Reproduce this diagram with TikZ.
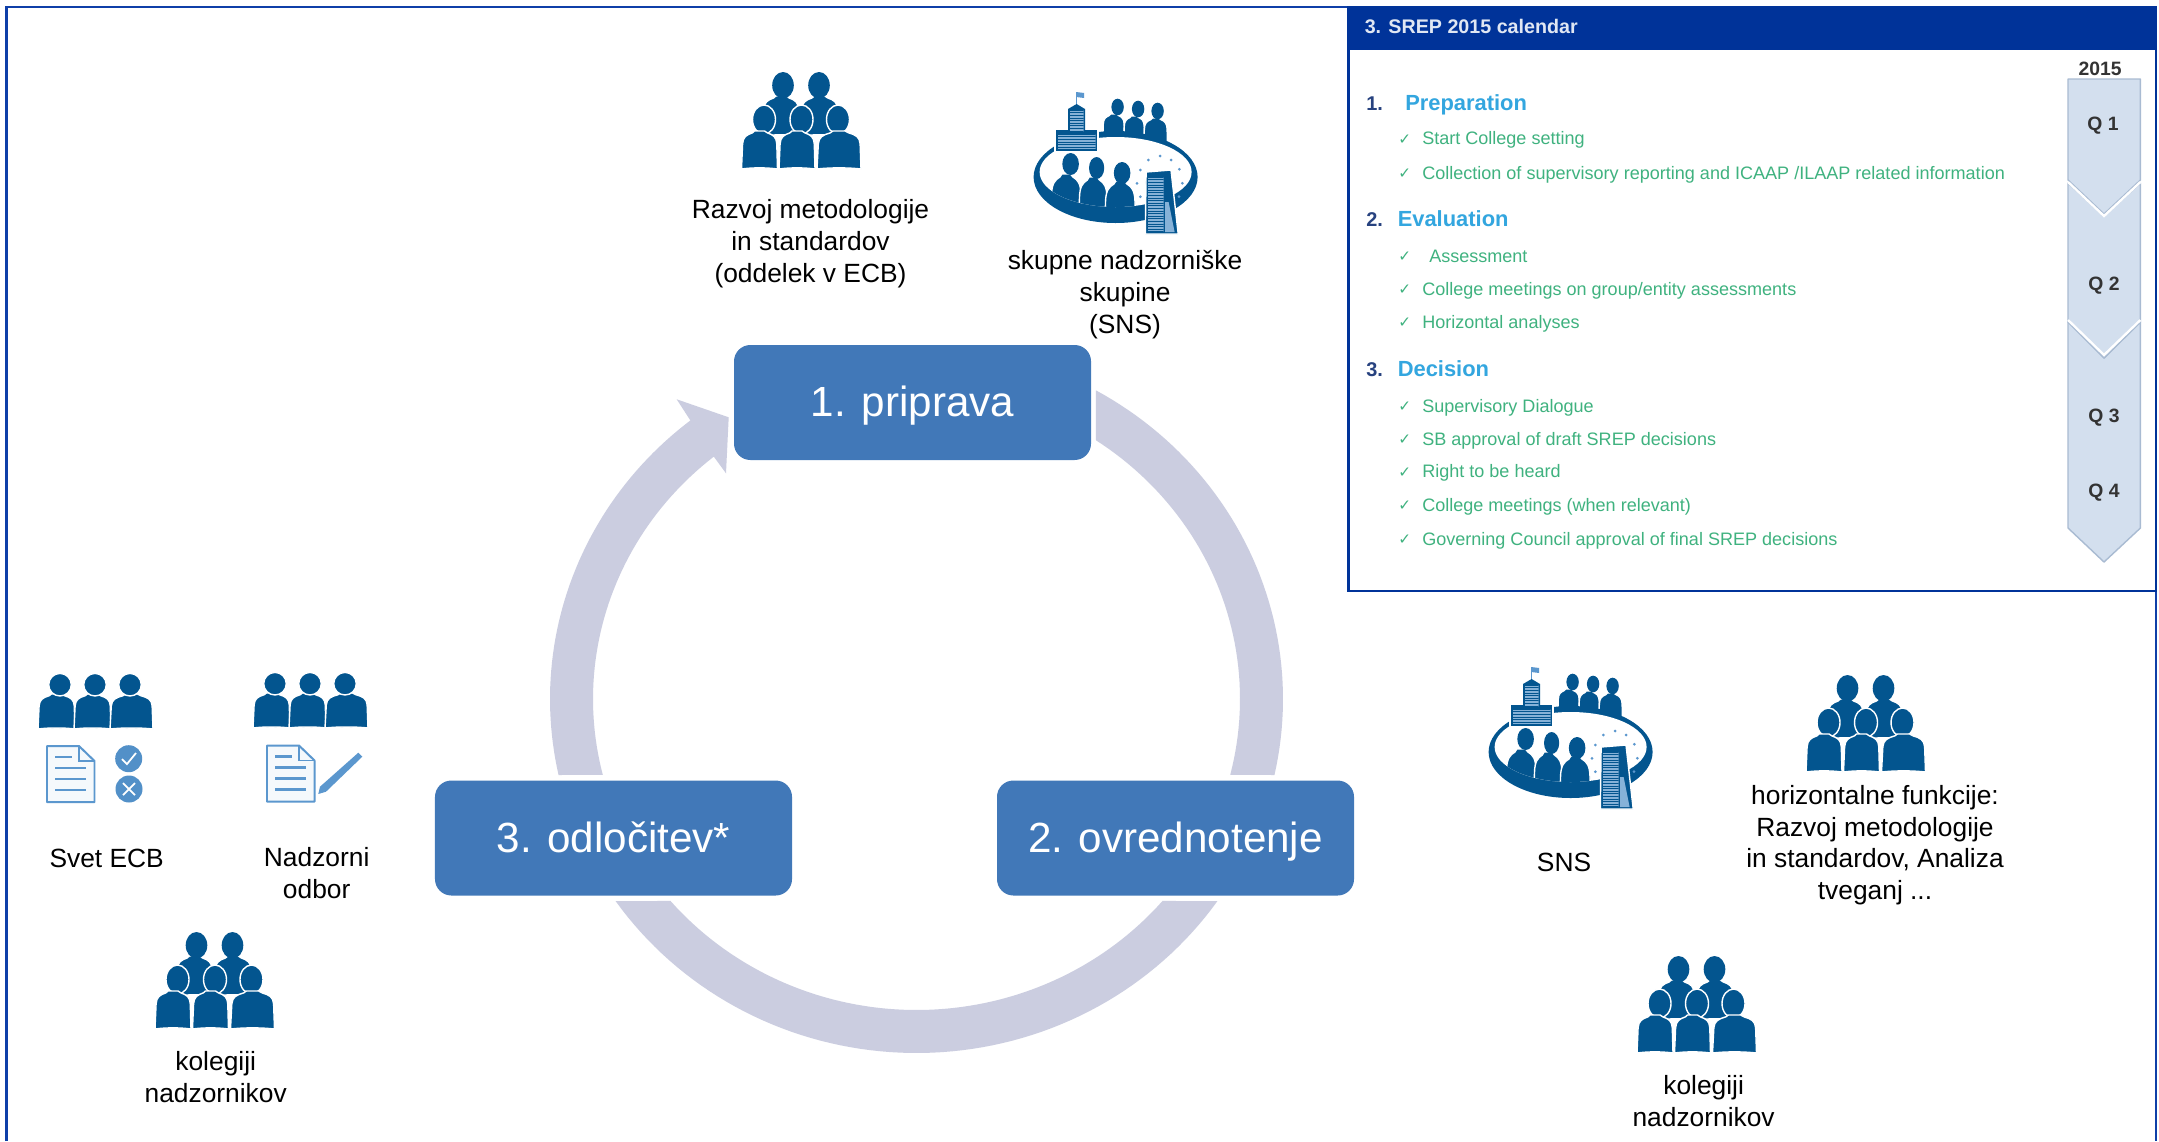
\documentclass[tikz,border=0pt]{standalone}
\usepackage{fontspec}
\setmainfont{Liberation Sans}
\newfontfamily\symfont{DejaVu Sans}
\definecolor{framecol}{HTML}{0F3FA8}
\definecolor{navycol}{HTML}{003399}
\definecolor{ringcol}{HTML}{CBCDE0}
\definecolor{boxcol}{HTML}{4178B8}
\definecolor{iconcol}{HTML}{03558F}
\definecolor{softcol}{HTML}{5B97CE}
\definecolor{wincol}{HTML}{86B2D8}
\definecolor{greencol}{HTML}{3FB27F}
\definecolor{cyancol}{HTML}{33A6DF}
\definecolor{numcol}{HTML}{27427F}
\definecolor{chevfill}{HTML}{D3DFEE}
\definecolor{chevline}{HTML}{A9BBD2}
\tikzset{
  stagebox/.style={fill=boxcol,text=white,rounded corners=14pt,inner sep=0pt,
    text height=30pt,text depth=5.8pt,
    minimum width=10.71cm,minimum height=3.45cm,font=\fontsize{36}{40}\selectfont},
  lbl/.style={align=center,inner sep=0pt,text=black,font=\fontsize{22.5}{27}\selectfont},
  lowlbl/.style={lbl,yshift=-1.5pt},
  ptext/.style={anchor=west,inner sep=0pt,text=greencol,yshift=-1.5pt,text height=11pt,text depth=3pt,font=\fontsize{15.4}{17}\selectfont},
  pcheck/.style={anchor=west,inner sep=0pt,text=greencol,yshift=-1pt,font=\symfont\fontsize{13}{15}\selectfont},
  phead/.style={anchor=west,inner sep=0pt,text=cyancol,yshift=-1pt,text height=13pt,text depth=3pt,font=\bfseries\fontsize{18.7}{20}\selectfont},
  pnum/.style={anchor=west,inner sep=0pt,text=numcol,yshift=-1pt,text height=13pt,text depth=3pt,font=\bfseries\fontsize{17}{20}\selectfont},
  qtext/.style={inner sep=0pt,text=black!80,yshift=-2.2pt,font=\bfseries\fontsize{16.5}{20}\selectfont},
  ic/.style={fill=iconcol,draw=white,line width=1.2pt},
  icn/.style={fill=iconcol},
  chevron/.style={fill=chevfill,draw=chevline,line width=1.2pt,line join=round},
}
\newcommand\Bust[4]{\path[ic,shift={(#1,#2)},xscale=#3,yscale=#4]
  (0,1) -- (.03,.34) .. controls (.04,.16) and (.14,.1) .. (.3,.05) -- (.36,0) -- (.64,0) -- (.72,.05)
  .. controls (.88,.1) and (.97,.16) .. (.98,.34) -- (1,1) .. controls (.7,.96) and (.3,.96) .. (0,1) -- cycle;}
\newcommand\PeopleFive[2]{\begin{scope}[shift={(#1,#2)}]
  \Bust{20}{24}{37}{40}\Bust{58}{24}{38}{40}
  \fill[icn] (40.5,13.3) ellipse [x radius=10.8,y radius=13.3];
  \fill[icn] (76.5,13.3) ellipse [x radius=10.8,y radius=13.3];
  \path[ic] (21.5,47.5) ellipse [x radius=11.5,y radius=14.5];
  \path[ic] (59,47.5) ellipse [x radius=11.5,y radius=14.5];
  \path[ic] (95.5,47.5) ellipse [x radius=11.5,y radius=14.5];
  \Bust{-1}{59}{36}{38}\Bust{36.5}{59}{36}{38}\Bust{74.5}{59}{44}{38}
\end{scope}}
\newcommand\PeopleThree[2]{\begin{scope}[shift={(#1,#2)}]
  \Bust{-1}{20}{37}{35}\Bust{35}{20}{37}{35}\Bust{71}{20}{43}{35}
  \path[ic] (21,10.7) circle [radius=11.3];
  \path[ic] (56,10.7) circle [radius=11.3];
  \path[ic] (91,10.7) circle [radius=11.3];
\end{scope}}
\newcommand\DocIcon[2]{\begin{scope}[shift={(#1,#2)}]
  \path[fill=white!94!softcol,draw=softcol,line width=1.7pt,line join=round]
    (0,0) -- (32,0) -- (47.5,15) -- (47.5,56) -- (0,56) -- cycle;
  \draw[softcol,line width=1.2pt] (32,0) -- (32,15) -- (47.5,15);
  \draw[softcol,line width=2.2pt] (8,11) -- (25,11) (8,22) -- (39,22) (8,33) -- (39,33) (8,44) -- (39,44);
\end{scope}}
\newcommand\Windows[4]{\begin{scope}
  \clip (#1,#2) rectangle (#3,#4);
  \fill[wincol] (#1,#2) rectangle (#3,#4);
  \foreach \k in {0,...,24} {\draw[iconcol,line width=.45pt] (#1,{#2+2.6*\k}) -- (#3,{#2+2.6*\k});}
  \end{scope}}
\newcommand\Sns[2]{\begin{scope}[shift={(#1,#2)}]
  % upper people
  \Bust{69}{22}{22}{30}\Bust{90}{24}{21}{30}\Bust{110}{26}{24}{32}
  \fill[icn] (84,15) ellipse [x radius=6.2,y radius=8.3];
  \fill[icn] (104.5,17) ellipse [x radius=6.2,y radius=8.3];
  \fill[icn] (124,19) ellipse [x radius=6.2,y radius=8.3];
  % oval band
  \fill[icn] (82,85) ellipse [x radius=82,y radius=46];
  \fill[white] (82,80) ellipse [x radius=76,y radius=35];
  % lower people
  \begin{scope}
    \clip (82,80) ellipse [x radius=76,y radius=35];
    \Bust{17}{82}{31}{60}\Bust{45}{85}{29}{60}\Bust{71}{89}{31}{60}
  \end{scope}
  \fill[icn] (37,72) ellipse [x radius=8.3,y radius=11];
  \fill[icn] (63,76) ellipse [x radius=7.6,y radius=11];
  \fill[icn] (88.5,81) ellipse [x radius=8.3,y radius=11];
  % stars
  \foreach \sx/\sy in {114.7/68,126.4/64,137.4/68,106.7/78,145.7/77.3,103.4/91.3,148.7/91.3,106.7/104.7,145.4/104.7}
    {\fill[softcol] (\sx,\sy) circle [radius=1.5];}
  % left building
  \path[fill=white] (20,37) rectangle (65.5,61);
  \path[icn] (22.4,38) rectangle (63.4,59);
  \path[icn] (34.4,17) -- (43,12) -- (51.4,17) -- (51.4,40) -- (34.4,40) -- cycle;
  \Windows{24}{42}{62}{57}
  \Windows{36}{18}{50}{40}
  \draw[softcol,line width=.6pt] (42.5,0) -- (42.5,12);
  \fill[softcol] (42.5,0) -- (50.5,1) -- (50.5,6) -- (42.5,5) -- cycle;
  % right tower
  \path[fill=iconcol,draw=white,line width=1.2pt] (111.7,142) -- (112.5,80) -- (137.4,78) -- (144.6,142) -- cycle;
  \Windows{114}{85}{130}{140}
  \fill[wincol] (131.5,110) -- (135,110) -- (141,140) -- (131.5,140) -- cycle;
\end{scope}}
\begin{document}
\begin{tikzpicture}[x=0.03cm,y=-0.03cm]
\useasboundingbox (0,0) rectangle (2159,1141);
\fill[white] (0,0) rectangle (2159,1141);
% outer frame
\draw[framecol,line width=2pt] (6.5,1141) -- (6.5,7) -- (2156,7) -- (2156,1141);
% ring
\fill[ringcol] plot[domain=-60.7:12.4,samples=50] ({916.5+366.5*cos(\x)},{699+354*sin(\x)})
  -- plot[domain=14.1:-56.3,samples=50] ({916.5+323.5*cos(\x)},{699+311*sin(\x)}) -- cycle;
\fill[ringcol] plot[domain=34.8:145.2,samples=70] ({916.5+366.5*cos(\x)},{699+354*sin(\x)})
  -- plot[domain=139.5:40.5,samples=70] ({916.5+323.5*cos(\x)},{699+311*sin(\x)}) -- cycle;
\fill[ringcol] plot[domain=167.6:231.9,samples=50] ({916.5+366.5*cos(\x)},{699+354*sin(\x)})
  -- (676.7,399.3) -- (728.7,417.3) -- (726,473.3)
  -- plot[domain=231.2:165.9,samples=50] ({916.5+323.5*cos(\x)},{699+311*sin(\x)}) -- cycle;
% stages
\node[stagebox] (st1) at (912.5,402.5) {1. priprava};
\node[stagebox] (st2) at (1175.5,838) {2. ovrednotenje};
\node[stagebox] (st3) at (613.5,838) {3. odločitev*};
% icons
\PeopleFive{742.5}{72}
\Sns{1033.6}{92}
\PeopleThree{39}{674}
\PeopleThree{254}{673}
\DocIcon{47}{746}
\DocIcon{267}{745.5}
\fill[softcol!90!iconcol] (128.7,758.7) circle [radius=13.5];
\draw[white,line width=1.5pt] (122,759) -- (127,764) -- (136,753);
\fill[softcol!90!iconcol] (129,789) circle [radius=13.5];
\draw[white,line width=1.5pt] (123,783) -- (135,795) (135,783) -- (123,795);
\fill[softcol] (318.3,794) -- (320,786.7) -- (358.3,752.7) -- (362.3,756.7) -- (326,791.7) -- cycle;
\PeopleFive{156}{932}
\Sns{1488.6}{667}
\PeopleFive{1807}{675}
\PeopleFive{1638}{956}
% labels
\node[lowlbl] (t1) at (810.5,242) {Razvoj metodologije\\in standardov\\(oddelek v ECB)};
\node[lowlbl] (t2) at (1125,293) {skupne nadzorniške\\skupine\\(SNS)};
\node[lowlbl] (t3) at (106.7,857) {Svet ECB};
\node[lbl] (t4) at (316.7,873) {Nadzorni\\odbor};
\node[lbl] (t5) at (215.7,1077) {kolegiji\\nadzornikov};
\node[lowlbl] (t6) at (1564,861) {SNS};
\node[lbl] (t7) at (1875,845) {horizontalne funkcije:\\Razvoj metodologije\\in standardov, Analiza\\tveganj ...};
\node[lbl] (t8) at (1703.6,1101) {kolegiji\\nadzornikov};
% inset panel
\path[fill=white,draw=navycol,line width=2pt] (1348.5,7) rectangle (2156,591);
\fill[navycol] (1348.5,7) rectangle (2156,50);
\node[anchor=west,inner sep=0pt,text=white!88!navycol,font=\bfseries\fontsize{16.8}{19}\selectfont] (ptitle) at (1364.5,26) {3. SREP 2015 calendar};
\node[pnum] (n1) at (1366,103) {1.};
\node[phead] (h1) at (1405,103) {Preparation};
\node[pcheck] (k1) at (1398,138.5) {✓};
\node[ptext] (a1) at (1422,138.5) {Start College setting};
\node[pcheck] (k2) at (1398,172.6) {✓};
\node[ptext] (a2) at (1422,172.6) {Collection of supervisory reporting and ICAAP /ILAAP related information};
\node[pnum] (n2) at (1366,219) {2.};
\node[phead] (h2) at (1397.5,219) {Evaluation};
\node[pcheck] (k3) at (1398,255.6) {✓};
\node[ptext] (b1) at (1429,255.6) {Assessment};
\node[pcheck] (k4) at (1398,289) {✓};
\node[ptext] (b2) at (1422,289) {College meetings on group/entity assessments};
\node[pcheck] (k5) at (1398,322) {✓};
\node[ptext] (b3) at (1422,322) {Horizontal analyses};
\node[pnum] (n3) at (1366,369) {3.};
\node[phead] (h3) at (1397.5,369) {Decision};
\node[pcheck] (k6) at (1398,405.7) {✓};
\node[ptext] (c1) at (1422,405.7) {Supervisory Dialogue};
\node[pcheck] (k7) at (1398,438.6) {✓};
\node[ptext] (c2) at (1422,438.6) {SB approval of draft SREP decisions};
\node[pcheck] (k8) at (1398,471.5) {✓};
\node[ptext] (c3) at (1422,471.5) {Right to be heard};
\node[pcheck] (k9) at (1398,505) {✓};
\node[ptext] (c4) at (1422,505) {College meetings (when relevant)};
\node[pcheck] (k10) at (1398,539) {✓};
\node[ptext] (c5) at (1422,539) {Governing Council approval of final SREP decisions};
% chevrons
\path[chevron] (2068,322) -- (2104,358) -- (2140.4,322) -- (2140.4,528) -- (2104,562) -- (2068,528) -- cycle;
\path[chevron] (2068,183) -- (2104,216) -- (2140.4,183) -- (2140.4,322) -- (2104,358) -- (2068,322) -- cycle;
\draw[white,line width=2pt] (2068,320) -- (2104,355) -- (2140.4,320);
\path[chevron] (2068,79) -- (2140.4,79) -- (2140.4,180) -- (2104,214) -- (2068,180) -- cycle;
\draw[white,line width=2pt] (2068,182) -- (2104,216) -- (2140.4,182);
\node[qtext] (y) at (2100,66.5) {2015};
\node[qtext] (q1) at (2103,123) {Q 1};
\node[qtext] (q2) at (2104,283) {Q 2};
\node[qtext] (q3) at (2104,415) {Q 3};
\node[qtext] (q4) at (2104,490) {Q 4};
\end{tikzpicture}
\end{document}
